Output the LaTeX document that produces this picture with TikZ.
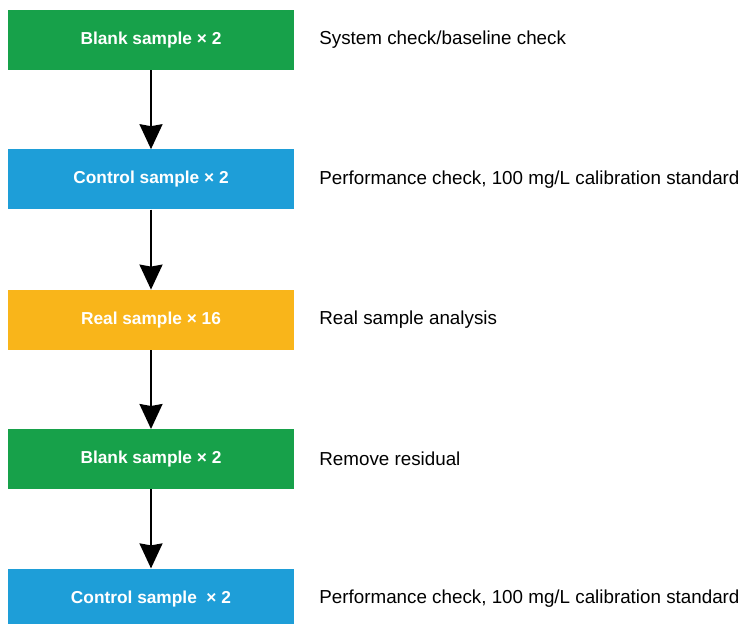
\documentclass[tikz,border=0pt]{standalone}
\usepackage{fontspec}
\setmainfont{Liberation Sans}
\usetikzlibrary{arrows.meta,positioning}

\definecolor{blankgreen}{HTML}{17A14A}
\definecolor{ctrlblue}{HTML}{1E9ED8}
\definecolor{realyellow}{HTML}{F9B51A}

\begin{document}
\begin{tikzpicture}[
  sample/.style={minimum width=286pt, minimum height=60pt, inner sep=0pt, text=white, font=\fontsize{17.3}{20}\selectfont\bfseries},
  note/.style={inner sep=0pt, anchor=west, font=\fontsize{18.8}{22}\selectfont},
  arrow/.style={-{Stealth[length=25pt,width=23pt,inset=2pt]}, line width=2pt}
]
\useasboundingbox (0,0) rectangle (742pt,-624pt);
\node[sample, fill=blankgreen] (blank1) at (151pt,-40pt) {Blank sample × 2};
\node[sample, fill=ctrlblue, below=79pt of blank1] (control1) {Control sample × 2};
\node[sample, fill=realyellow, below=80pt of control1] (real) {Real sample × 16};
\node[sample, fill=blankgreen, below=79pt of real] (blank2) {Blank sample × 2};
\node[sample, fill=ctrlblue, below=79pt of blank2] (control2) {Control sample \ × 2};
\node[note, right=25pt of blank1] (baseline) {System check/baseline check};
\node[note, right=25pt of control1] (perf1) {Performance check, 100 mg/L calibration standard};
\node[note, right=25pt of real] (analysis) {Real sample analysis};
\node[note, right=25pt of blank2] (residual) {Remove residual};
\node[note, right=25pt of control2] (perf2) {Performance check, 100 mg/L calibration standard};
\draw[arrow] (blank1) -- (control1);
\draw[arrow] (control1) -- (real);
\draw[arrow] (real) -- (blank2);
\draw[arrow] (blank2) -- (control2);
\end{tikzpicture}
\end{document}
